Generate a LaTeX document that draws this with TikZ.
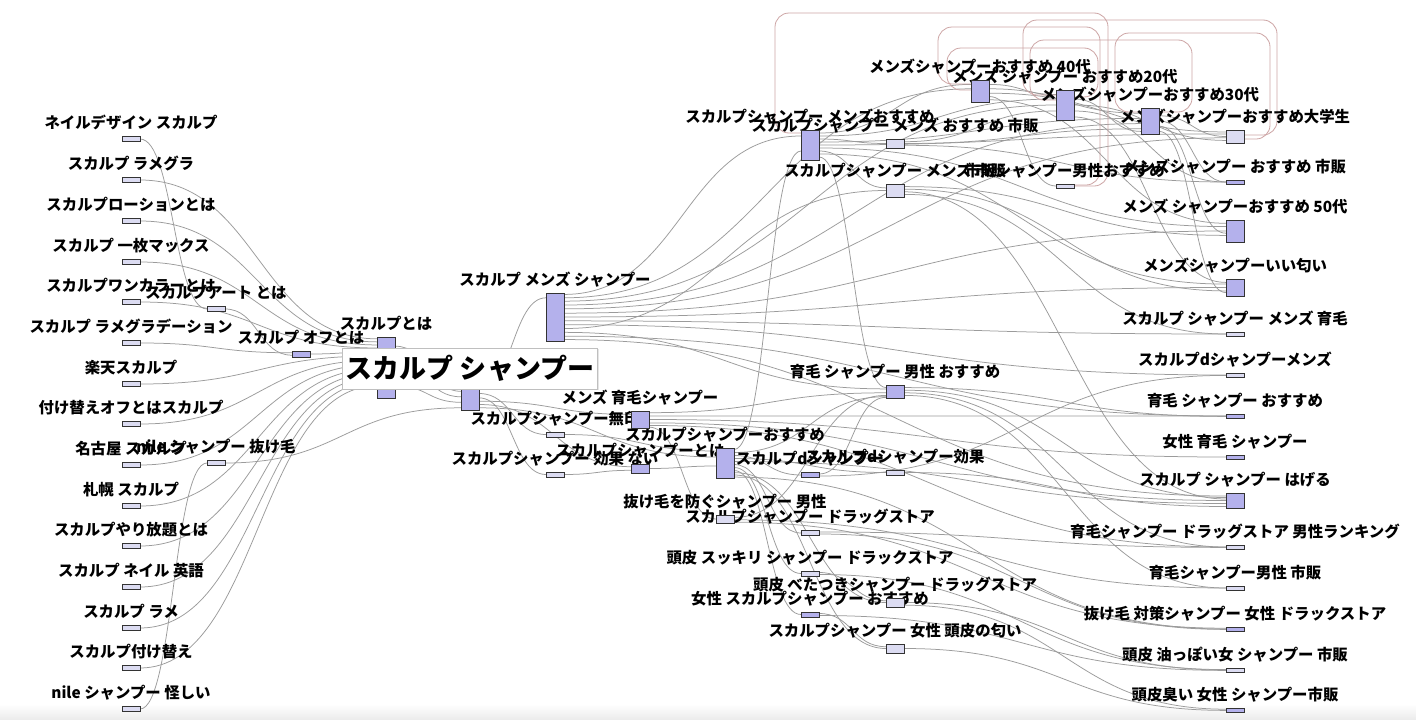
\documentclass[tikz,border=0pt]{standalone}
\usepackage{fontspec}
\setmainfont{Noto Sans CJK JP}
\usetikzlibrary{positioning,calc,shadows}
\definecolor{bardark}{RGB}{180,177,236}
\definecolor{barlight}{RGB}{220,220,242}
\definecolor{linkgray}{RGB}{155,155,155}
\definecolor{loopred}{RGB}{205,165,165}
\pgfdeclarelayer{bg}
\pgfdeclarelayer{txt}
\pgfsetlayers{bg,txt,main}
\begin{document}
\begin{tikzpicture}
    [x=1pt, y=-1pt,
    bx/.style={draw=black!80, line width=0.9pt, minimum width=18pt, minimum height=#1, inner sep=0pt, outer sep=0pt},
    dk/.style={fill=bardark},
    lt/.style={fill=barlight},
    lbl/.style={font=\fontsize{15.4}{16}\selectfont\bfseries, inner sep=0pt, text height=12pt, text depth=2.5pt},
    mainlbl/.style={font=\fontsize{27}{30}\selectfont\bfseries, fill=white, draw=black!25, minimum width=255pt, minimum height=41pt, inner sep=0pt, drop shadow={opacity=0.2, shadow xshift=1pt, shadow yshift=-1.5pt}},
    lnk/.style={draw=linkgray, line width=0.75pt},
    lp/.style={draw=loopred, line width=0.8pt, rounded corners=14pt}]
    \useasboundingbox (0,0) rectangle (1416,720);
    % left column
    \node[bx=5, lt] (nail) at (131,139) {};
    \node[bx=5, lt] (ramegura) at (131,180) {};
    \node[bx=5, lt] (lotion) at (131,221) {};
    \node[bx=5, lt] (maxx) at (131,262) {};
    \node[bx=5, lt] (onecolor) at (131,302) {};
    \node[bx=5, lt] (gradation) at (131,343) {};
    \node[bx=5, lt] (rakuten) at (131,384) {};
    \node[bx=5, lt] (tsukeoff) at (131,424) {};
    \node[bx=5, lt] (nagoya) at (131,465) {};
    \node[bx=5, lt] (sapporo) at (131,506) {};
    \node[bx=5, lt] (yarihodai) at (131,546) {};
    \node[bx=5, lt] (eigo) at (131,587) {};
    \node[bx=5, lt] (rame) at (131,628) {};
    \node[bx=5, lt] (tsukekae) at (131,668) {};
    \node[bx=5, lt] (ayashii) at (131,709) {};
    % middle
    \node[bx=5, lt] (art) at (216,309) {};
    \node[bx=5, lt] (nuke) at (216,463) {};
    \node[bx=6, dk] (off) at (301,354) {};
    \node[bx=61, dk] (toha) at (386,367.5) {};
    \node[bx=22, dk] (root) at (470,399) {};
    \node[bx=48, dk] (mens) at (555,317) {};
    \node[bx=5, lt] (muji) at (555,434.5) {};
    \node[bx=5, lt] (kouka) at (555,474.5) {};
    \node[bx=17, dk] (ikumo) at (640,419.5) {};
    \node[bx=9, dk] (sptoha) at (640,468.5) {};
    \node[bx=30, dk] (osusume) at (725,463) {};
    \node[bx=8, lt] (bousi) at (725,519) {};
    \node[bx=30, dk] (mensosu) at (810,145) {};
    \node[bx=5, dk] (dsh) at (810,475) {};
    \node[bx=5, lt] (drug) at (810,533) {};
    \node[bx=5, lt] (sukkiri) at (810,573.5) {};
    \node[bx=5, dk] (josei) at (810,614.5) {};
    \node[bx=9, lt] (osushihan) at (895,143.5) {};
    \node[bx=13, lt] (menshihan) at (895,190.5) {};
    \node[bx=13, dk] (dansei) at (895,391.5) {};
    \node[bx=5, lt] (dkouka) at (895,472.5) {};
    \node[bx=9, lt] (betatsuki) at (895,602.5) {};
    \node[bx=9, lt] (nioi) at (895,648.5) {};
    \node[bx=22, dk] (age40) at (980,91) {};
    \node[bx=30, dk] (age20) at (1065,105) {};
    \node[bx=4, lt] (shihandansei) at (1065,186) {};
    \node[bx=26, dk] (age30) at (1150,121) {};
    % right column
    \node[bx=13, lt] (daigaku) at (1235,136.5) {};
    \node[bx=4, dk] (moshihan) at (1235,182) {};
    \node[bx=22, dk] (age50) at (1235,231) {};
    \node[bx=17, dk] (iinioi) at (1235,287.5) {};
    \node[bx=4, lt] (mensikumo) at (1235,334) {};
    \node[bx=4, lt] (dmens) at (1235,375) {};
    \node[bx=4, dk] (ikumoosu) at (1235,416) {};
    \node[bx=4, dk] (joseiikumo) at (1235,457) {};
    \node[bx=15, dk] (hageru) at (1235,500.5) {};
    \node[bx=4, lt] (drugrank) at (1235,547) {};
    \node[bx=4, lt] (danseishihan) at (1235,588) {};
    \node[bx=4, dk] (taisaku) at (1235,629) {};
    \node[bx=4, lt] (abura) at (1235,670) {};
    \node[bx=4, dk] (kusai) at (1235,710) {};

    \begin{pgfonlayer}{bg}
    \fill[white] (0,0) rectangle (1416,720);
    \shade[top color=white, bottom color=black!8] (0,704) rectangle (1416,720);
    \foreach \a/\fa/\b/\fb in {nail/.5/art/.5, ramegura/.5/toha/.03, lotion/.5/toha/.08, maxx/.5/toha/.13,
      onecolor/.5/toha/.18, gradation/.5/off/.3, art/.5/off/.7, off/.5/toha/.24, rakuten/.5/toha/.31,
      tsukeoff/.5/toha/.38, nagoya/.5/toha/.45, sapporo/.5/toha/.52, yarihodai/.5/toha/.59,
      eigo/.5/toha/.66, rame/.5/toha/.73, tsukekae/.5/toha/.8, ayashii/.5/nuke/.5, nuke/.5/root/.9,
      toha/.15/root/.15, toha/.45/root/.4, toha/.8/root/.65,
      root/.05/mens/.1, root/.25/muji/.5, root/.45/kouka/.5, root/.6/ikumo/.2, root/.75/sptoha/.3, root/.9/osusume/.3,
      mens/.03/mensosu/.2, mens/.1/age40/.4, mens/.17/age20/.5, mens/.25/age30/.6, mens/.33/daigaku/.6,
      mens/.42/age50/.5, mens/.5/iinioi/.5, mens/.58/mensikumo/.5, mens/.66/dmens/.5, mens/.74/menshihan/.5,
      mens/.82/dansei/.3, mens/.9/ikumoosu/.5, mens/.97/hageru/.2,
      mensosu/.1/age40/.2, mensosu/.2/age20/.3, mensosu/.3/osushihan/.5, mensosu/.4/age30/.4,
      mensosu/.5/daigaku/.3, mensosu/.6/age50/.3, mensosu/.7/menshihan/.3, mensosu/.8/iinioi/.3,
      mensosu/.9/dansei/.2,
      osushihan/.3/age20/.7, osushihan/.5/age30/.8, osushihan/.7/moshihan/.5,
      menshihan/.2/age50/.7, menshihan/.4/iinioi/.7, menshihan/.6/hageru/.4, menshihan/.8/mensikumo/.5,
      age40/.2/age20/.15, age40/.4/age30/.2, age40/.6/daigaku/.15, age40/.75/shihandansei/.5, age40/.9/age50/.15,
      age20/.3/age30/.9, age20/.5/daigaku/.8, age20/.7/moshihan/.5, age20/.9/iinioi/.2,
      age30/.3/daigaku/.5, age30/.5/moshihan/.5, age30/.7/age50/.6, age30/.9/iinioi/.8,
      ikumo/.1/dansei/.6, ikumo/.3/ikumoosu/.5, ikumo/.5/joseiikumo/.5, ikumo/.7/hageru/.5,
      ikumo/.85/drugrank/.5, ikumo/.95/bousi/.5,
      muji/.5/osusume/.1, kouka/.5/sptoha/.7, sptoha/.5/osusume/.6,
      osusume/.05/mensosu/.7, osusume/.15/dansei/.9, osusume/.25/dsh/.5, osusume/.35/dkouka/.5,
      osusume/.45/hageru/.7, osusume/.55/drug/.5, osusume/.65/sukkiri/.5, osusume/.75/josei/.5,
      osusume/.82/betatsuki/.5, osusume/.9/nioi/.5, osusume/.97/taisaku/.5,
      dsh/.3/dansei/.95, dsh/.7/dmens/.6, dkouka/.5/hageru/.9,
      bousi/.3/dansei/.8, bousi/.6/danseishihan/.5, bousi/.9/taisaku/.3,
      dansei/.2/ikumoosu/.6, dansei/.4/hageru/.3, dansei/.6/drugrank/.5, dansei/.8/danseishihan/.5,
      drug/.3/drugrank/.6, drug/.7/taisaku/.6, sukkiri/.3/betatsuki/.3, sukkiri/.7/abura/.4,
      josei/.3/nioi/.3, josei/.7/abura/.6, betatsuki/.5/abura/.5, betatsuki/.8/kusai/.3, nioi/.5/kusai/.6}
      \draw[lnk] let \p1=($(\a.north east)!\fa!(\a.south east)$), \p2=($(\b.north west)!\fb!(\b.south west)$) in
        (\p1) .. controls ({(\x1+\x2)/2},\y1) and ({(\x1+\x2)/2},\y2) .. (\p2);
    % links that run backwards
    \draw[lp] (shihandansei.east) -| (1108,13) -| ([xshift=-26pt,yshift=-3pt]mensosu.north west) -- ([yshift=-3pt]mensosu.north west);
    \draw[lp] ([yshift=1pt]shihandansei.east) -| (1100,27) -| ([xshift=-33pt,yshift=-4pt]age40.north west) -- ([yshift=-4pt]age40.north west);
    \draw[lp] ([yshift=-7pt]age20.north east) -| (1098,48) -| ([xshift=-24pt,yshift=-10pt]age40.north west) -- ([yshift=-10pt]age40.north west);
    \draw[lp] ([yshift=-5pt]daigaku.north east) -| (1277,20) -| ([xshift=-33pt,yshift=-5pt]age20.north west) -- ([yshift=-5pt]age20.north west);
    \draw[lp] ([yshift=-4pt]age30.north east) -| (1192,40) -| ([xshift=-26pt,yshift=-10pt]age20.north west) -- ([yshift=-10pt]age20.north west);
    \draw[lp] ([yshift=-9pt]daigaku.north east) -| (1270,33) -| ([xshift=-26pt,yshift=-4pt]age30.north west) -- ([yshift=-4pt]age30.north west);
    \end{pgfonlayer}

    \begin{pgfonlayer}{txt}
    \node[lbl, above=5pt of nail] {ネイルデザイン スカルプ};
    \node[lbl, above=5pt of ramegura] {スカルプ ラメグラ};
    \node[lbl, above=5pt of lotion] {スカルプローションとは};
    \node[lbl, above=5pt of maxx] {スカルプ 一枚マックス};
    \node[lbl, above=5pt of onecolor] {スカルプワンカラーとは};
    \node[lbl, above=5pt of gradation] {スカルプ ラメグラデーション};
    \node[lbl, above=5pt of rakuten] {楽天スカルプ};
    \node[lbl, above=5pt of tsukeoff] {付け替えオフとはスカルプ};
    \node[lbl, above=5pt of nagoya] {名古屋 スカルプ};
    \node[lbl, above=5pt of sapporo] {札幌 スカルプ};
    \node[lbl, above=5pt of yarihodai] {スカルプやり放題とは};
    \node[lbl, above=5pt of eigo] {スカルプ ネイル 英語};
    \node[lbl, above=5pt of rame] {スカルプ ラメ};
    \node[lbl, above=5pt of tsukekae] {スカルプ付け替え};
    \node[lbl, above=5pt of ayashii] {nile シャンプー 怪しい};
    \node[lbl, above=5pt of art] {スカルプアート とは};
    \node[lbl, above=5pt of nuke] {nile シャンプー 抜け毛};
    \node[lbl, above=5pt of off] {スカルプ オフとは};
    \node[lbl, above=5pt of toha] {スカルプとは};
    \node[lbl, above=5pt of mens] {スカルプ メンズ シャンプー};
    \node[lbl, above=5pt of muji] {スカルプシャンプー無印};
    \node[lbl, above=5pt of kouka] {スカルプシャンプー 効果 ない};
    \node[lbl, above=5pt of ikumo] {メンズ 育毛シャンプー};
    \node[lbl, above=5pt of sptoha] {スカルプシャンプーとは};
    \node[lbl, above=5pt of osusume] {スカルプシャンプーおすすめ};
    \node[lbl, above=5pt of bousi] {抜け毛を防ぐシャンプー 男性};
    \node[lbl, above=5pt of mensosu] {スカルプシャンプー メンズおすすめ};
    \node[lbl, above=5pt of dsh] {スカルプdシャンプー};
    \node[lbl, above=5pt of drug] {スカルプシャンプー ドラッグストア};
    \node[lbl, above=5pt of sukkiri] {頭皮 スッキリ シャンプー ドラックストア};
    \node[lbl, above=5pt of josei] {女性 スカルプシャンプー おすすめ};
    \node[lbl, above=5pt of osushihan] {スカルプシャンプー メンズ おすすめ 市販};
    \node[lbl, above=5pt of menshihan] {スカルプシャンプー メンズ 市販};
    \node[lbl, above=5pt of dansei] {育毛 シャンプー 男性 おすすめ};
    \node[lbl, above=5pt of dkouka] {スカルプdシャンプー効果};
    \node[lbl, above=5pt of betatsuki] {頭皮 べたつきシャンプー ドラッグストア};
    \node[lbl, above=5pt of nioi] {スカルプシャンプー 女性 頭皮の匂い};
    \node[lbl, above=5pt of age40] {メンズシャンプーおすすめ 40代};
    \node[lbl, above=5pt of age20] {メンズ シャンプー おすすめ20代};
    \node[lbl, above=5pt of shihandansei] {市販シャンプー男性おすすめ};
    \node[lbl, above=5pt of age30] {メンズシャンプーおすすめ30代};
    \node[lbl, above=5pt of daigaku] {メンズシャンプーおすすめ大学生};
    \node[lbl, above=5pt of moshihan] {メンズシャンプー おすすめ 市販};
    \node[lbl, above=5pt of age50] {メンズ シャンプーおすすめ 50代};
    \node[lbl, above=5pt of iinioi] {メンズシャンプーいい匂い};
    \node[lbl, above=5pt of mensikumo] {スカルプ シャンプー メンズ 育毛};
    \node[lbl, above=5pt of dmens] {スカルプdシャンプーメンズ};
    \node[lbl, above=5pt of ikumoosu] {育毛 シャンプー おすすめ};
    \node[lbl, above=5pt of joseiikumo] {女性 育毛 シャンプー};
    \node[lbl, above=5pt of hageru] {スカルプ シャンプー はげる};
    \node[lbl, above=5pt of drugrank] {育毛シャンプー ドラッグストア 男性ランキング};
    \node[lbl, above=5pt of danseishihan] {育毛シャンプー男性 市販};
    \node[lbl, above=5pt of taisaku] {抜け毛 対策シャンプー 女性 ドラックストア};
    \node[lbl, above=5pt of abura] {頭皮 油っぽい女 シャンプー 市販};
    \node[lbl, above=5pt of kusai] {頭皮臭い 女性 シャンプー市販};
    \end{pgfonlayer}

    \node[mainlbl, above=-1pt of root] (rootlbl) {スカルプ シャンプー};
  \end{tikzpicture}
\end{document}
